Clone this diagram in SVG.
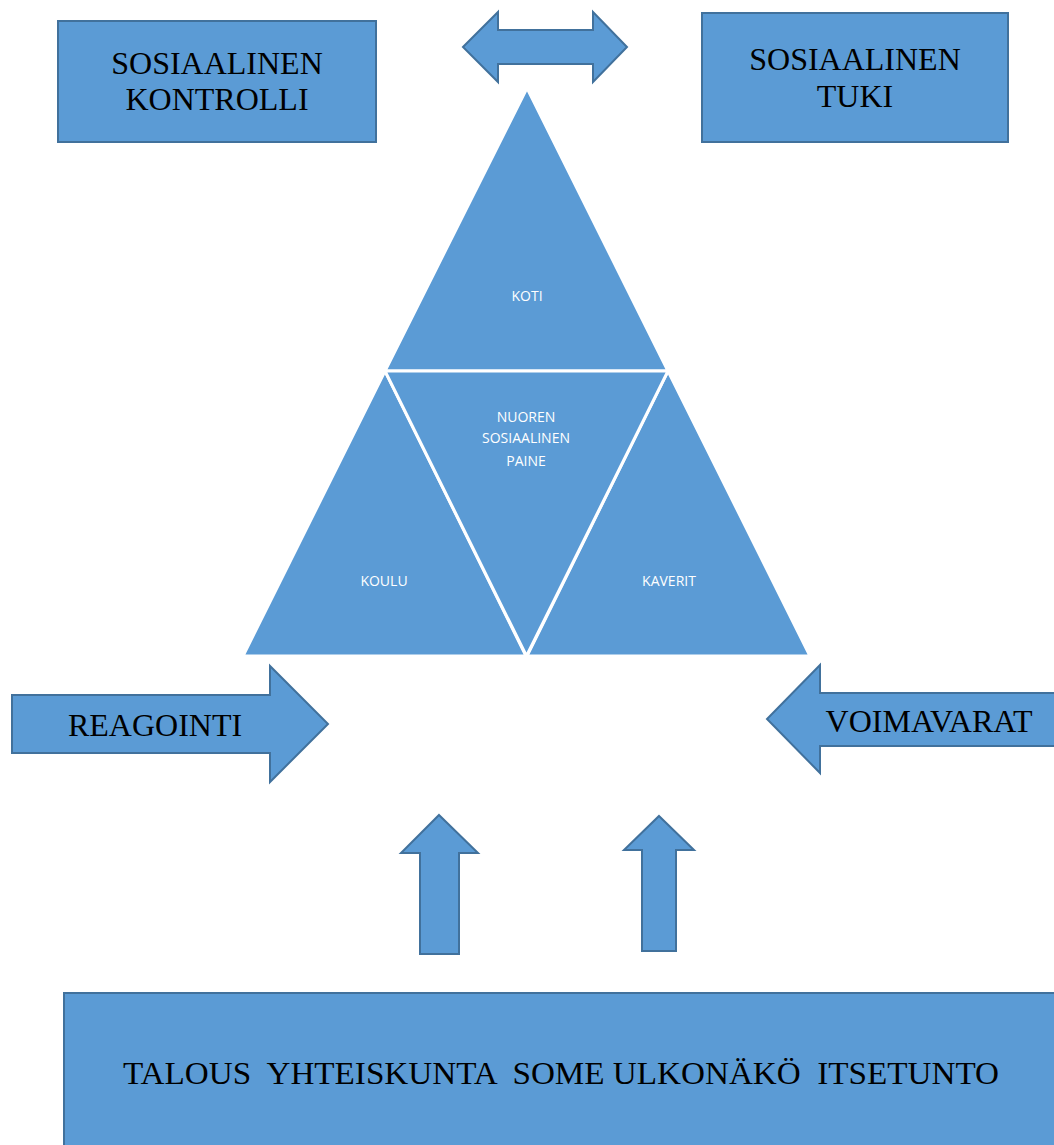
<svg xmlns="http://www.w3.org/2000/svg" width="1054" height="1145" viewBox="0 0 1054 1145">
<style>
.shape{fill:#5B9BD5;stroke:#41719C;stroke-width:2;stroke-linejoin:miter}
.tri{fill:#5B9BD5;stroke:#FFFFFF;stroke-width:3;stroke-linejoin:miter}
.big{font-family:"Liberation Serif","Times New Roman",serif;font-size:32px;fill:#000;text-anchor:middle}
.small{font-family:"Open Sans","Liberation Sans",sans-serif;font-size:14px;fill:#FFFFFF;text-anchor:middle}
</style>
<rect width="1054" height="1145" fill="#FFFFFF"/>
<g id="sosiaalinen-kontrolli">
<rect class="shape" x="58" y="21" width="318" height="121"/>
<text class="big" x="217" y="74">SOSIAALINEN</text>
<text class="big" x="217" y="110">KONTROLLI</text>
</g>
<g id="sosiaalinen-tuki">
<rect class="shape" x="702" y="13" width="306" height="129"/>
<text class="big" x="855" y="70">SOSIAALINEN</text>
<text class="big" x="855" y="107">TUKI</text>
</g>
<g id="pyramid">
<g id="koti">
<polygon class="tri" points="527,88 385,371 668,371"/>
<text class="small" x="527" y="301">KOTI</text>
</g>
<g id="koulu">
<polygon class="tri" points="385,371 243,656 526,656"/>
<text class="small" x="384" y="586">KOULU</text>
</g>
<g id="kaverit">
<polygon class="tri" points="668,371 527,656 810,656"/>
<text class="small" x="669" y="586">KAVERIT</text>
</g>
<g id="nuoren-sosiaalinen-paine">
<polygon class="tri" points="385,371 668,371 526.5,656"/>
<text class="small" x="526" y="422">NUOREN</text>
<text class="small" x="526" y="443">SOSIAALINEN</text>
<text class="small" x="526" y="466">PAINE</text>
</g>
</g>
<g id="reagointi">
<polygon class="shape" points="12,695 270,695 270,666 328,724 270,782 270,753 12,753"/>
<text class="big" x="155" y="736">REAGOINTI</text>
</g>
<g id="voimavarat">
<polygon class="shape" points="1060,693 820,693 820,665 767,719 820,773 820,746 1060,746"/>
<text class="big" x="929" y="732">VOIMAVARAT</text>
</g>
<g id="talous">
<rect class="shape" x="64" y="993" width="1000" height="160"/>
<text class="big" x="561" y="1084" font-size="34" textLength="876" lengthAdjust="spacingAndGlyphs" xml:space="preserve">TALOUS  YHTEISKUNTA  SOME ULKONÄKÖ  ITSETUNTO</text>
</g>
<g id="connectors">
<polygon class="shape" points="463,47 498,12 498,30 593,30 593,12 627,47 593,82 593,64 498,64 498,82"/>
<polygon class="shape" points="439,815 478,853 459,853 459,954 420,954 420,853 401,853"/>
<polygon class="shape" points="659,816 694,850 676,850 676,951 642,951 642,850 624,850"/>
</g>
</svg>
